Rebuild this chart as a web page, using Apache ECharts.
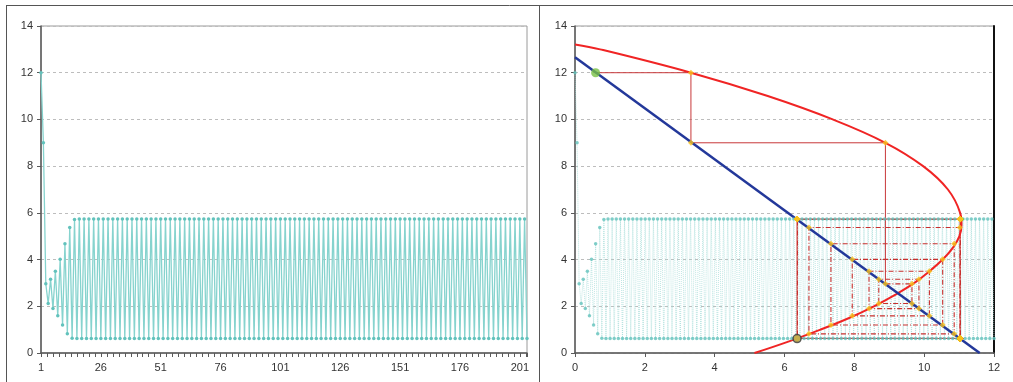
<!DOCTYPE html>
<html>
<head>
<meta charset="utf-8">
<title>Cobweb</title>
<script src="https://cdn.jsdelivr.net/npm/echarts@6/dist/echarts.min.js"></script>
<style>
  html, body { margin: 0; padding: 0; background: #fff; }
  #chart { width: 1013px; height: 382px; }
</style>
</head>
<body>
<div id="chart"></div>
<script>
// Iterated values y(t), t = 1..204
const seriesY = [
  12, 9.0, 2.96, 2.12, 3.16, 1.9, 3.5, 1.59, 4.01, 1.2, 4.68, 0.82, 5.37, 0.63, 5.72, 0.62,
  5.74, 0.62, 5.74, 0.62, 5.74, 0.62, 5.74, 0.62, 5.74, 0.62, 5.74, 0.62, 5.74, 0.62, 5.74, 0.62, 5.74, 0.62, 5.74, 0.62,
  5.74, 0.62, 5.74, 0.62, 5.74, 0.62, 5.74, 0.62, 5.74, 0.62, 5.74, 0.62, 5.74, 0.62, 5.74, 0.62, 5.74, 0.62, 5.74, 0.62,
  5.74, 0.62, 5.74, 0.62, 5.74, 0.62, 5.74, 0.62, 5.74, 0.62, 5.74, 0.62, 5.74, 0.62, 5.74, 0.62, 5.74, 0.62, 5.74, 0.62,
  5.74, 0.62, 5.74, 0.62, 5.74, 0.62, 5.74, 0.62, 5.74, 0.62, 5.74, 0.62, 5.74, 0.62, 5.74, 0.62, 5.74, 0.62, 5.74, 0.62,
  5.74, 0.62, 5.74, 0.62, 5.74, 0.62, 5.74, 0.62, 5.74, 0.62, 5.74, 0.62, 5.74, 0.62, 5.74, 0.62, 5.74, 0.62, 5.74, 0.62,
  5.74, 0.62, 5.74, 0.62, 5.74, 0.62, 5.74, 0.62, 5.74, 0.62, 5.74, 0.62, 5.74, 0.62, 5.74, 0.62, 5.74, 0.62, 5.74, 0.62,
  5.74, 0.62, 5.74, 0.62, 5.74, 0.62, 5.74, 0.62, 5.74, 0.62, 5.74, 0.62, 5.74, 0.62, 5.74, 0.62, 5.74, 0.62, 5.74, 0.62,
  5.74, 0.62, 5.74, 0.62, 5.74, 0.62, 5.74, 0.62, 5.74, 0.62, 5.74, 0.62, 5.74, 0.62, 5.74, 0.62, 5.74, 0.62, 5.74, 0.62,
  5.74, 0.62, 5.74, 0.62, 5.74, 0.62, 5.74, 0.62, 5.74, 0.62, 5.74, 0.62, 5.74, 0.62, 5.74, 0.62, 5.74, 0.62, 5.74, 0.62,
  5.74, 0.62, 5.74, 0.62, 5.74, 0.62, 5.74, 0.62
];

// Horizontal position on the red curve reached from each y(t)
const curveX = [
  3.32, 8.89, 9.65, 8.70, 9.85, 8.42, 10.15, 7.94, 10.53, 7.33, 10.86, 6.70, 11.02, 6.37, 11.04, 6.36,
  11.03, 6.36, 11.03, 6.36, 11.03, 6.36, 11.03, 6.36, 11.03, 6.36, 11.03, 6.36, 11.03, 6.36, 11.03, 6.36, 11.03, 6.36, 11.03, 6.36,
  11.03, 6.36, 11.03, 6.36, 11.03, 6.36, 11.03, 6.36, 11.03, 6.36, 11.03, 6.36, 11.03, 6.36, 11.03, 6.36, 11.03, 6.36, 11.03, 6.36,
  11.03, 6.36, 11.03, 6.36, 11.03, 6.36, 11.03, 6.36, 11.03, 6.36, 11.03, 6.36, 11.03, 6.36, 11.03, 6.36, 11.03, 6.36, 11.03, 6.36,
  11.03, 6.36, 11.03, 6.36, 11.03, 6.36, 11.03, 6.36, 11.03, 6.36, 11.03, 6.36, 11.03, 6.36, 11.03, 6.36, 11.03, 6.36, 11.03, 6.36,
  11.03, 6.36, 11.03, 6.36, 11.03, 6.36, 11.03, 6.36, 11.03, 6.36, 11.03, 6.36, 11.03, 6.36, 11.03, 6.36, 11.03, 6.36, 11.03, 6.36,
  11.03, 6.36, 11.03, 6.36, 11.03, 6.36, 11.03, 6.36, 11.03, 6.36, 11.03, 6.36, 11.03, 6.36, 11.03, 6.36, 11.03, 6.36, 11.03, 6.36,
  11.03, 6.36, 11.03, 6.36, 11.03, 6.36, 11.03, 6.36, 11.03, 6.36, 11.03, 6.36, 11.03, 6.36, 11.03, 6.36, 11.03, 6.36, 11.03, 6.36,
  11.03, 6.36, 11.03, 6.36, 11.03, 6.36, 11.03, 6.36, 11.03, 6.36, 11.03, 6.36, 11.03, 6.36, 11.03, 6.36, 11.03, 6.36, 11.03, 6.36,
  11.03, 6.36, 11.03, 6.36, 11.03, 6.36, 11.03, 6.36, 11.03, 6.36, 11.03, 6.36, 11.03, 6.36, 11.03, 6.36, 11.03, 6.36, 11.03, 6.36,
  11.03, 6.36, 11.03, 6.36, 11.03, 6.36, 11.03, 6.36
];

// Starting point on the blue line
const startX = 0.59;

// Red curve (x as a function of y), sampled top to bottom
const redCurveX = [0, 0.72, 3.32, 5.52, 7.38, 8.89, 9.97, 10.68, 11.03, 11.07, 11.01, 10.82, 10.53, 10.15, 9.72, 9.18, 8.56, 7.85, 7.03, 6.13, 5.14];
const redCurveY = [13.21, 13, 12, 11, 10, 9, 8, 7, 6, 5.5, 5, 4.5, 4, 3.5, 3, 2.5, 2, 1.5, 1, 0.5, 0];

// Blue straight line end points
const blueLineX = [0, 11.59];
const blueLineY = [12.66, 0];

// Axis ranges and tick steps
const yTicks = { min: 0, max: 14, step: 2 };
const rightXTicks = { min: 0, max: 12, step: 2 };
const timeLabelStep = 25;
const timeTickStep = 2.5;

const lastIndex = seriesY.length - 1;

// Cobweb path: horizontal to the red curve, vertical back to the blue line
const cobweb = [[startX, seriesY[0]]];
for (let n = 0; n < seriesY.length; n++) {
  cobweb.push([curveX[n], seriesY[n]]);
  if (n + 1 < seriesY.length) cobweb.push([curveX[n], seriesY[n + 1]]);
}
const cobwebSolid = cobweb.slice(0, 5);
const cobwebDashed = cobweb.slice(4);
const endPoint = cobweb[cobweb.length - 1];

const timeData = seriesY.map((v, i) => [i, v]);
const redData = redCurveX.map((x, i) => [x, redCurveY[i]]);
const blueData = blueLineX.map((x, i) => [x, blueLineY[i]]);

const FONT = 'Liberation Sans, Arial, sans-serif';
const axisColor = '#5a5a5a';
const gridDash = { color: '#bdbdbd', type: [3, 3], width: 1 };
const labelStyle = { color: '#333', fontSize: 11, fontFamily: FONT };

const chart = echarts.init(document.getElementById('chart'), null, { renderer: 'canvas' });

chart.setOption({
  animation: false,
  backgroundColor: '#fff',
  textStyle: { fontFamily: FONT },
  grid: [
    { left: 41, top: 26, width: 486, height: 327, show: true, borderColor: '#9a9a9a', borderWidth: 1 },
    { left: 575, top: 26, width: 419, height: 327, show: true, borderColor: '#9a9a9a', borderWidth: 1 }
  ],
  xAxis: [
    {
      gridIndex: 0, type: 'value', position: 'bottom', min: 0, max: lastIndex, interval: timeTickStep,
      axisLine: { lineStyle: { color: axisColor, width: 1.5 } },
      axisTick: { length: 4, lineStyle: { color: axisColor } },
      axisLabel: Object.assign({}, labelStyle, {
        margin: 9,
        formatter: v => (Math.abs(v % timeLabelStep) < 1e-9 ? String(v + 1) : '')
      }),
      splitLine: { show: false }
    },
    {
      gridIndex: 1, type: 'value', position: 'bottom', min: rightXTicks.min, max: rightXTicks.max, interval: rightXTicks.step,
      axisLine: { lineStyle: { color: axisColor, width: 1.5 } },
      axisTick: { length: 4, lineStyle: { color: axisColor } },
      axisLabel: Object.assign({}, labelStyle, { margin: 9 }),
      splitLine: { show: false }
    },
    {
      gridIndex: 1, type: 'value', position: 'top', min: 0, max: lastIndex, show: false
    }
  ],
  yAxis: [
    {
      gridIndex: 0, type: 'value', position: 'left', min: yTicks.min, max: yTicks.max, interval: yTicks.step,
      axisLine: { show: true, lineStyle: { color: axisColor, width: 1.5 } },
      axisTick: { show: true, length: 4, lineStyle: { color: axisColor } },
      axisLabel: Object.assign({}, labelStyle, { margin: 8 }),
      splitLine: { lineStyle: gridDash }
    },
    {
      gridIndex: 1, type: 'value', position: 'left', min: yTicks.min, max: yTicks.max, interval: yTicks.step,
      axisLine: { show: true, lineStyle: { color: axisColor, width: 1.5 } },
      axisTick: { show: true, length: 4, lineStyle: { color: axisColor } },
      axisLabel: Object.assign({}, labelStyle, { margin: 8 }),
      splitLine: { lineStyle: gridDash }
    },
    {
      gridIndex: 1, type: 'value', position: 'right', min: yTicks.min, max: yTicks.max,
      axisLine: { show: true, onZero: false, lineStyle: { color: '#111', width: 2 } },
      axisTick: { show: false }, axisLabel: { show: false }, splitLine: { show: false }
    }
  ],
  series: [
    {
      name: 'y(t)', type: 'line', xAxisIndex: 0, yAxisIndex: 0, data: timeData,
      showSymbol: true, showAllSymbol: true, symbol: 'circle', symbolSize: 3.5,
      itemStyle: { color: '#62c2bc' },
      lineStyle: { color: '#86d3ce', width: 1.3 }, z: 2
    },
    {
      name: 'y(t) trace', type: 'line', xAxisIndex: 2, yAxisIndex: 1, data: timeData,
      showSymbol: false,
      lineStyle: { color: '#a5dcd8', width: 1, type: 'dotted', opacity: 0.75 }, z: 1
    },
    {
      name: 'cobweb solid', type: 'line', xAxisIndex: 1, yAxisIndex: 1, data: cobwebSolid,
      showSymbol: false, lineStyle: { color: '#c8383a', width: 1 }, z: 2
    },
    {
      name: 'cobweb', type: 'line', xAxisIndex: 1, yAxisIndex: 1, data: cobwebDashed,
      showSymbol: false, lineStyle: { color: '#c8302e', width: 1.1, type: [5, 2, 1, 2] }, z: 2
    },
    {
      name: 'curve', type: 'line', xAxisIndex: 1, yAxisIndex: 1, data: redData,
      showSymbol: false, smooth: 0.4, lineStyle: { color: '#f02424', width: 2 }, z: 3
    },
    {
      name: 'line', type: 'line', xAxisIndex: 1, yAxisIndex: 1, data: blueData,
      showSymbol: false, lineStyle: { color: '#23389a', width: 2.5 }, z: 3
    },
    {
      name: 'y(t) points', type: 'scatter', xAxisIndex: 2, yAxisIndex: 1, data: timeData,
      symbol: 'circle', symbolSize: 3.5, itemStyle: { color: '#62c2bc' }, z: 4
    },
    {
      name: 'steps', type: 'scatter', xAxisIndex: 1, yAxisIndex: 1, data: cobweb.slice(1),
      symbol: 'diamond', symbolSize: 6, itemStyle: { color: '#f7c21b' }, z: 5
    },
    {
      name: 'start', type: 'scatter', xAxisIndex: 1, yAxisIndex: 1, data: [[startX, seriesY[0]]],
      symbol: 'circle', symbolSize: 9, itemStyle: { color: '#78c043' }, z: 6
    },
    {
      name: 'end', type: 'scatter', xAxisIndex: 1, yAxisIndex: 1, data: [endPoint],
      symbol: 'circle', symbolSize: 8,
      itemStyle: { color: '#b9a95a', borderColor: '#3a3a3a', borderWidth: 1.5 }, z: 6
    }
  ],
  graphic: [
    { type: 'line', shape: { x1: 6, y1: 5.5, x2: 1013, y2: 5.5 }, style: { stroke: '#555', lineWidth: 1 }, silent: true },
    { type: 'line', shape: { x1: 6.5, y1: 5, x2: 6.5, y2: 382 }, style: { stroke: '#555', lineWidth: 1 }, silent: true },
    { type: 'line', shape: { x1: 539.5, y1: 5, x2: 539.5, y2: 382 }, style: { stroke: '#555', lineWidth: 1 }, silent: true }
  ]
});
</script>
</body>
</html>
